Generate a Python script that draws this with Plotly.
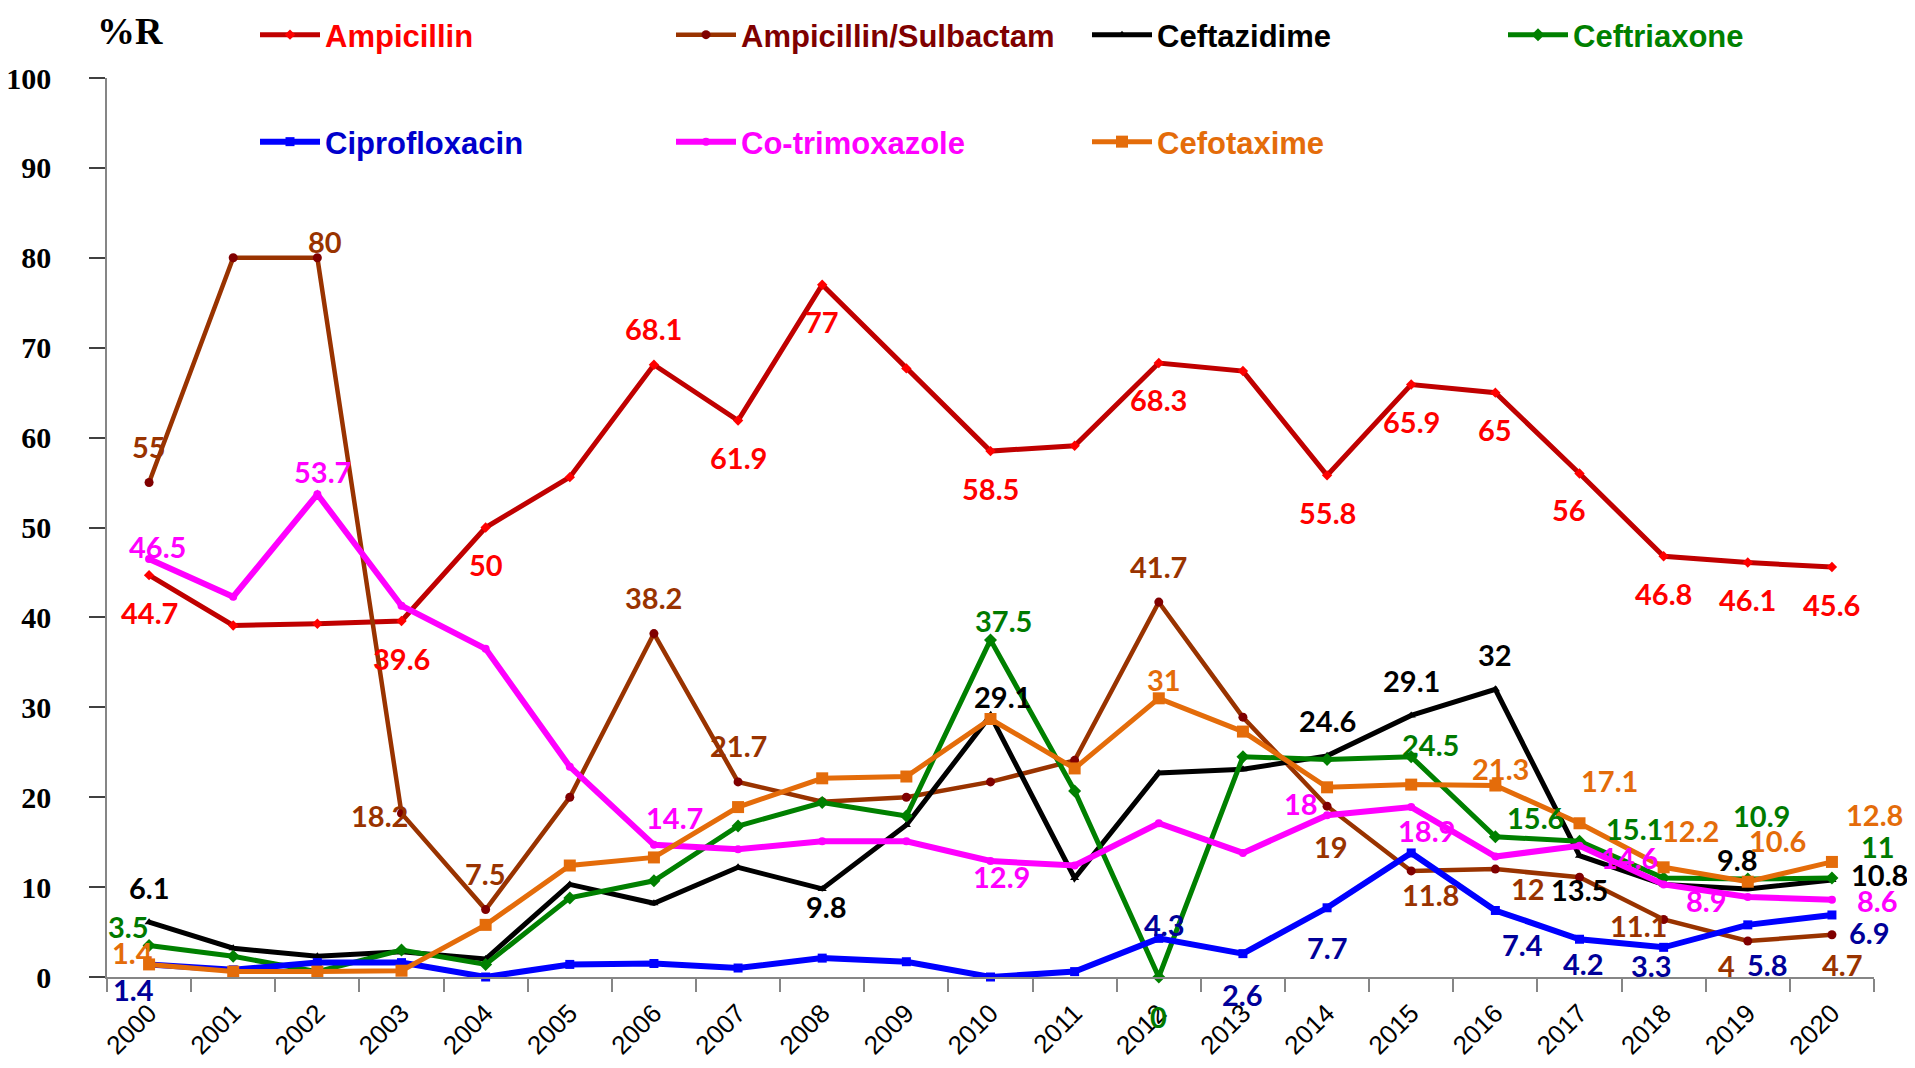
import plotly.graph_objects as go

# ---------------- data ----------------
years = [str(y) for y in range(2000, 2021)]

ampicillin = [44.7, 39.1, 39.3, 39.6, 50, 55.6, 68.1, 61.9, 77, 67.7, 58.5,
              59.1, 68.3, 67.4, 55.8, 65.9, 65, 56, 46.8, 46.1, 45.6]
ampicillin_sulbactam = [55, 80, 80, 18.2, 7.5, 20.0, 38.2, 21.7, 19.5, 20.0, 21.7,
                        24.1, 41.7, 28.9, 19, 11.8, 12, 11.1, 6.4, 4, 4.7]
ceftazidime = [6.1, 3.2, 2.3, 2.8, 2.0, 10.3, 8.2, 12.2, 9.8, 16.9, 29.1,
               11.0, 22.7, 23.1, 24.6, 29.1, 32, 13.5, 10.3, 9.8, 10.8]
ceftriaxone = [3.5, 2.3, 0.6, 3.0, 1.4, 8.8, 10.7, 16.8, 19.4, 17.9, 37.5,
               20.7, 0, 24.5, 24.2, 24.5, 15.6, 15.1, 11.0, 10.9, 11]
ciprofloxacin = [1.4, 0.8, 1.6, 1.6, 0, 1.4, 1.5, 1.0, 2.1, 1.7, 0,
                 0.6, 4.3, 2.6, 7.7, 13.8, 7.4, 4.2, 3.3, 5.8, 6.9]
cotrimoxazole = [46.5, 42.3, 53.7, 41.3, 36.5, 23.4, 14.7, 14.2, 15.1, 15.1, 12.9,
                 12.4, 17.1, 13.8, 18, 18.9, 13.4, 14.6, 10.3, 8.9, 8.6]
cefotaxime = [1.4, 0.6, 0.6, 0.7, 5.8, 12.4, 13.3, 18.9, 22.1, 22.3, 28.7,
              23.2, 31, 27.3, 21.1, 21.4, 21.3, 17.1, 12.2, 10.6, 12.8]

# years whose value is printed as a data label
ampicillin_labeled = ["2000", "2003", "2004", "2006", "2007", "2008", "2010", "2012",
                      "2014", "2015", "2016", "2017", "2018", "2019", "2020"]
ampicillin_sulbactam_labeled = ["2000", "2002", "2003", "2004", "2006", "2007", "2012",
                                "2014", "2015", "2016", "2017", "2019", "2020"]
ceftazidime_labeled = ["2000", "2008", "2010", "2014", "2015", "2016", "2017", "2019", "2020"]
ceftriaxone_labeled = ["2000", "2010", "2012", "2015", "2016", "2017", "2019", "2020"]
ciprofloxacin_labeled = ["2000", "2012", "2013", "2014", "2016", "2017", "2018", "2019", "2020"]
cotrimoxazole_labeled = ["2000", "2002", "2006", "2010", "2014", "2015", "2017", "2019", "2020"]
cefotaxime_labeled = ["2000", "2012", "2016", "2017", "2018", "2019", "2020"]

y_ticks = list(range(0, 101, 10))

# ---------------- styles ----------------
# label offsets in screen pixels (dx right, dy down); default per series
label_offsets = {
    "Ampicillin": {"default": (0, 37), "2006": (0, -36), "2017": (-11, 36)},
    "Ampicillin/Sulbactam": {"default": (0, -36), "2002": (8, -16), "2003": (-22, 2),
                             "2014": (4, 40), "2015": (19, 24), "2016": (33, 19),
                             "2017": (59, 48), "2019": (-21, 24), "2020": (11, 30)},
    "Ceftazidime": {"default": (0, -35), "2008": (4, 18), "2010": (12, -19),
                    "2017": (0, 34), "2019": (-10, -29), "2020": (48, -5)},
    "Ceftriaxone": {"default": (0, -20), "2000": (-21, -19), "2010": (13, -19),
                    "2012": (0, 39), "2015": (19, -12), "2016": (40, -19),
                    "2017": (55, -13), "2019": (14, -64), "2020": (46, -32)},
    "Ciprofloxacin": {"default": (0, 30), "2000": (-16, 25), "2012": (6, -14),
                      "2013": (0, 41), "2014": (0, 40), "2016": (27, 34),
                      "2017": (4, 24), "2018": (-12, 18), "2019": (20, 40),
                      "2020": (38, 18)},
    "Co-trimoxazole": {"default": (0, -20), "2000": (8, -12), "2002": (5, -23),
                       "2006": (21, -27), "2010": (11, 15), "2014": (-26, -12),
                       "2015": (15, 23), "2017": (50, 12), "2019": (-41, 4),
                       "2020": (46, 1)},
    "Cefotaxime": {"default": (0, -20), "2000": (-17, -12), "2012": (5, -19),
                   "2016": (5, -17), "2017": (30, -43), "2018": (27, -37),
                   "2019": (30, -41), "2020": (43, -47)},
}

series = [
    dict(name="Ampicillin", y=ampicillin, lab=ampicillin_labeled,
         line="#C00000", marker="#FF0000", symbol="diamond", msize=8, lw=5,
         label_color="#FF0000", legend_color="#FF0000"),
    dict(name="Ampicillin/Sulbactam", y=ampicillin_sulbactam, lab=ampicillin_sulbactam_labeled,
         line="#993300", marker="#800000", symbol="circle", msize=9, lw=4.5,
         label_color="#993300", legend_color="#7F0000"),
    dict(name="Ceftazidime", y=ceftazidime, lab=ceftazidime_labeled,
         line="#000000", marker="#000000", symbol="triangle-up", msize=8, lw=5,
         label_color="#000000", legend_color="#000000"),
    dict(name="Ceftriaxone", y=ceftriaxone, lab=ceftriaxone_labeled,
         line="#008000", marker="#008000", symbol="diamond", msize=10, lw=5,
         label_color="#007A00", legend_color="#008000"),
    dict(name="Ciprofloxacin", y=ciprofloxacin, lab=ciprofloxacin_labeled,
         line="#0000FF", marker="#0000FF", symbol="square", msize=9, lw=6,
         label_color="#000099", legend_color="#0000CC"),
    dict(name="Co-trimoxazole", y=cotrimoxazole, lab=cotrimoxazole_labeled,
         line="#FF00FF", marker="#FF00FF", symbol="circle", msize=8, lw=6,
         label_color="#FF00FF", legend_color="#FF00FF"),
    dict(name="Cefotaxime", y=cefotaxime, lab=cefotaxime_labeled,
         line="#E46C0A", marker="#E46C0A", symbol="square", msize=12, lw=5,
         label_color="#E46C0A", legend_color="#E46C0A"),
]

# legend box anchor points in pixels (left edge, vertical middle)
legend_pos = [(247, 27), (663, 27), (1079, 27), (1495, 27),
              (247, 134), (663, 134), (1079, 134)]

W, H = 1915, 1068
ML, MR, MT, MB = 99, 49, 70, 99
PW = W - ML - MR
PH = H - MT - MB

fig = go.Figure()
annotations = []
layout_legends = {}

for i, s in enumerate(series):
    lg = "legend" if i == 0 else f"legend{i + 1}"
    fig.add_trace(go.Scatter(
        x=years, y=s["y"], name=s["name"], mode="lines+markers",
        line=dict(color=s["line"], width=s["lw"]),
        marker=dict(color=s["marker"], symbol=s["symbol"], size=s["msize"]),
        cliponaxis=False, legend=lg,
    ))
    px, py = legend_pos[i]
    layout_legends[lg] = dict(
        x=(px - ML) / PW, y=(H - MB - py) / PH,
        xref="paper", yref="paper", xanchor="left", yanchor="middle",
        bgcolor="rgba(0,0,0,0)", borderwidth=0,
        font=dict(family="Liberation Sans", size=31, color=s["legend_color"], weight="bold"),
        itemwidth=60, tracegroupgap=0,
    )
    offs = label_offsets[s["name"]]
    for idx, (yr, v) in enumerate(zip(years, s["y"])):
        if yr in s["lab"]:
            dx, dy = offs.get(yr, offs["default"])
            annotations.append(dict(
                x=idx, y=v, xref="x", yref="y", text=f"{v:g}", showarrow=False,
                xshift=dx, yshift=-dy, xanchor="center", yanchor="middle",
                font=dict(family="Lato", size=29, color=s["label_color"], weight="bold"),
            ))

annotations.append(dict(
    x=(122 - ML) / PW, y=(H - MB - 23) / PH, xref="paper", yref="paper",
    text="%R", showarrow=False, xanchor="center", yanchor="middle",
    font=dict(family="Liberation Serif", size=38, color="#000000", weight="bold"),
))

fig.update_layout(
    width=W, height=H,
    margin=dict(l=ML, r=MR, t=MT, b=MB, pad=0, autoexpand=False),
    paper_bgcolor="white", plot_bgcolor="white",
    showlegend=True,
    annotations=annotations,
    **layout_legends,
)

fig.update_xaxes(
    type="category", categoryorder="array", categoryarray=years,
    range=[-0.5, 20.5], tickson="boundaries", automargin=False,
    ticks="outside", ticklen=13, tickwidth=1.5, tickcolor="#868686",
    showline=True, linecolor="#868686", linewidth=1.5,
    showgrid=False, zeroline=False,
    tickangle=-45, ticklabelstandoff=9,
    tickfont=dict(family="Liberation Sans", size=26, color="#000000"),
)
fig.update_yaxes(
    range=[0, 100], tickvals=y_ticks, ticktext=[str(t) for t in y_ticks],
    automargin=False,
    ticks="outside", ticklen=16, tickwidth=1.5, tickcolor="#404040",
    showline=True, linecolor="#868686", linewidth=1.5,
    showgrid=False, zeroline=False, ticklabelstandoff=32,
    tickfont=dict(family="Liberation Serif", size=30, color="#000000", weight="bold"),
)

fig.write_html("out.html")
